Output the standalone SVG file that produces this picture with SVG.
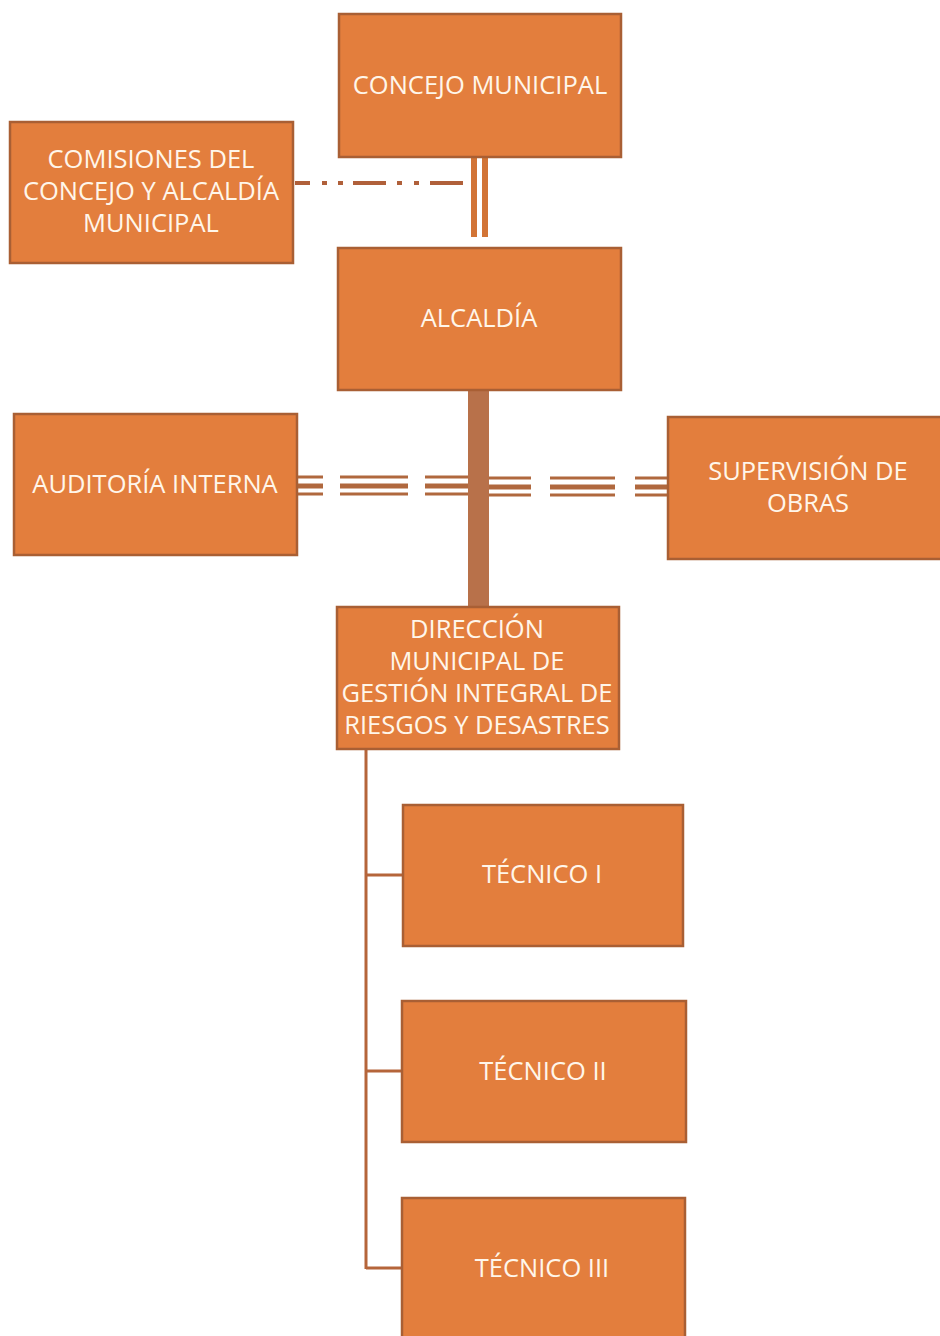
<svg xmlns="http://www.w3.org/2000/svg" width="940" height="1336" viewBox="0 0 940 1336">
<style>
.box{fill:#E37E3D;stroke:#A95F34;stroke-width:2.5}
.lbl{font-family:"Open Sans","Liberation Sans",sans-serif;font-size:25.5px;fill:#FFF6EA;text-anchor:middle}
.thin{stroke:#B5653A;stroke-width:3;fill:none}
.tri{stroke:#B0683E;fill:none}
</style>
<rect width="940" height="1336" fill="#ffffff"/>
<g id="connectors">
  <rect x="471" y="157" width="6" height="80" fill="#D27436"/>
  <rect x="482" y="157" width="6" height="80" fill="#D27436"/>
  <line x1="295" y1="183" x2="465" y2="183" stroke="#B0603A" stroke-width="4" stroke-dasharray="15 12 5 11 5 10 33 11 5 12 5 11 33"/>
  <rect x="468" y="390" width="21" height="217" fill="#B8714A"/>
  <g class="tri">
    <path d="M297 477H323M340 477H408M425 477H468M489 478H531M550 478H615M635 478H668" stroke-width="3"/>
    <path d="M297 486H323M340 486H408M425 486H468M489 487H531M550 487H615M635 487H668" stroke-width="5"/>
    <path d="M297 494H323M340 494H408M425 494H468M489 495H531M550 495H615M635 495H668" stroke-width="3"/>
  </g>
  <path class="thin" d="M366 749V1269"/>
  <path class="thin" d="M366 875H403M366 1071H402M366 1268H402"/>
</g>
<g id="concejo">
  <rect class="box" x="339" y="14" width="282" height="143"/>
  <text class="lbl" x="480" y="94">CONCEJO MUNICIPAL</text>
</g>
<g id="comisiones">
  <rect class="box" x="10" y="122" width="283" height="141"/>
  <text class="lbl" x="151" y="168">COMISIONES DEL</text>
  <text class="lbl" x="151" y="200">CONCEJO Y ALCALDÍA</text>
  <text class="lbl" x="151" y="232">MUNICIPAL</text>
</g>
<g id="alcaldia">
  <rect class="box" x="338" y="248" width="283" height="142"/>
  <text class="lbl" x="479" y="327">ALCALDÍA</text>
</g>
<g id="auditoria">
  <rect class="box" x="14" y="414" width="283" height="141"/>
  <text class="lbl" x="155" y="493">AUDITORÍA INTERNA</text>
</g>
<g id="supervision">
  <rect class="box" x="668" y="417" width="275" height="142"/>
  <text class="lbl" x="808" y="480">SUPERVISIÓN DE</text>
  <text class="lbl" x="808" y="512">OBRAS</text>
</g>
<g id="direccion">
  <rect class="box" x="337" y="607" width="282" height="142"/>
  <text class="lbl" x="477" y="638">DIRECCIÓN</text>
  <text class="lbl" x="477" y="670">MUNICIPAL DE</text>
  <text class="lbl" x="477" y="702">GESTIÓN INTEGRAL DE</text>
  <text class="lbl" x="477" y="734">RIESGOS Y DESASTRES</text>
</g>
<g id="tecnico1">
  <rect class="box" x="403" y="805" width="280" height="141"/>
  <text class="lbl" x="542" y="883">TÉCNICO I</text>
</g>
<g id="tecnico2">
  <rect class="box" x="402" y="1001" width="284" height="141"/>
  <text class="lbl" x="543" y="1080">TÉCNICO II</text>
</g>
<g id="tecnico3">
  <rect class="box" x="402" y="1198" width="283" height="142"/>
  <text class="lbl" x="542" y="1277">TÉCNICO III</text>
</g>
</svg>
